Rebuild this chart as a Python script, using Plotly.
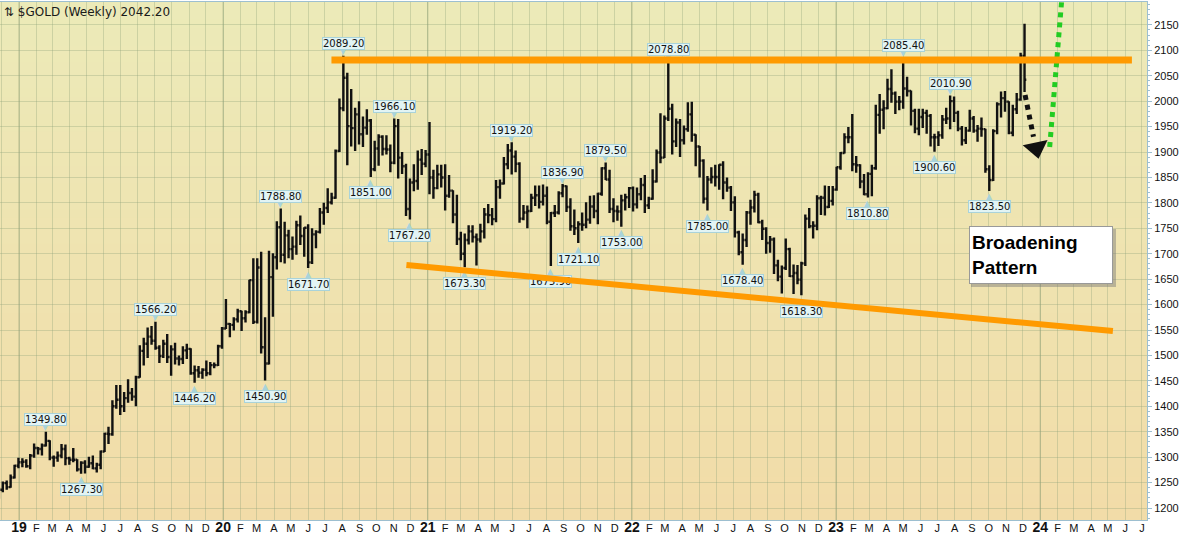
import pandas as pd
import plotly.graph_objects as go

# ---------------- DATA (weekly $GOLD bars) ----------------
opens = [
    1224, 1236, 1249, 1241, 1260, 1283,
    1290, 1291, 1282, 1303, 1318, 1316, 1323, 1332, 1299, 1299, 1303, 1316, 1298, 1295, 1295, 1276,
    1289, 1281, 1288, 1278, 1285, 1311, 1346, 1345, 1400, 1413, 1400, 1416, 1426, 1419, 1457, 1509,
    1523, 1537, 1529, 1515, 1499, 1523, 1497, 1512, 1494, 1493, 1510, 1513, 1465, 1471, 1466, 1472,
    1465, 1481, 1481, 1518,
    1553, 1562, 1560, 1571, 1587, 1573, 1585, 1648, 1566, 1673, 1516, 1484, 1654, 1693, 1752, 1698,
    1736, 1709, 1714, 1756, 1735, 1751, 1683, 1738, 1743, 1781, 1790, 1801, 1810, 1902, 1986, 2046,
    1951, 1947, 1974, 1935, 1948, 1962, 1866, 1907, 1930, 1906, 1905, 1879, 1951, 1889, 1872, 1788,
    1840, 1843, 1885, 1877,
    1895, 1850, 1829, 1856, 1850, 1814, 1824, 1777, 1729, 1700, 1727, 1744, 1733, 1728, 1744, 1777,
    1776, 1768, 1831, 1838, 1876, 1903, 1891, 1877, 1769, 1781, 1784, 1810, 1815, 1802, 1814, 1763,
    1780, 1781, 1819, 1833, 1792, 1754, 1750, 1758, 1757, 1767, 1793, 1784, 1818, 1868, 1846, 1788,
    1784, 1783, 1805, 1811,
    1829, 1797, 1817, 1835, 1795, 1808, 1842, 1899, 1889, 1966, 1985, 1921, 1958, 1923, 1945, 1974,
    1934, 1911, 1883, 1808, 1846, 1851, 1851, 1875, 1840, 1830, 1801, 1742, 1703, 1727, 1781, 1791,
    1816, 1762, 1749, 1721, 1728, 1677, 1655, 1672, 1709, 1656, 1662, 1649, 1681, 1769, 1754, 1755,
    1809, 1810, 1792, 1804,
    1826, 1870, 1898, 1929, 1929, 1876, 1874, 1842, 1817, 1857, 1868, 1973, 1983, 1986, 2024, 2015,
    1999, 1999, 2025, 2020, 1981, 1946, 1969, 1977, 1971, 1929, 1929, 1933, 1964, 1966, 2000, 1977,
    1946, 1923, 1942, 1966, 1942, 1946, 1945, 1866, 1845, 1941, 1994, 2006, 1999, 1938, 1984, 2003,
    2089,
]
highs = [
    1241, 1252, 1254, 1266, 1285, 1299,
    1298, 1296, 1306, 1327, 1320, 1327, 1349.8, 1333, 1303, 1311, 1326, 1325, 1301, 1318, 1296, 1292,
    1294, 1301, 1303, 1289, 1313, 1348, 1360, 1412, 1442, 1442, 1428, 1453, 1436, 1460, 1520, 1535,
    1555, 1558, 1566.2, 1520, 1531, 1542, 1520, 1525, 1500, 1518, 1523, 1514, 1480, 1479, 1475, 1490,
    1487, 1486, 1521, 1556,
    1611, 1564, 1575, 1592, 1588, 1589, 1649, 1691, 1691, 1704, 1575, 1706, 1701, 1764, 1788.8, 1763,
    1747, 1734, 1765, 1775, 1752, 1758, 1750, 1746, 1790, 1800, 1829, 1820, 1905, 2005, 2089.2, 2056,
    2024, 1987, 2000, 1970, 1984, 1965, 1922, 1935, 1933, 1933, 1915, 1966.1, 1965, 1900, 1877, 1848,
    1876, 1903, 1906, 1904,
    1959, 1865, 1875, 1875, 1876, 1855, 1825, 1816, 1743, 1740, 1756, 1756, 1740, 1759, 1790, 1798,
    1790, 1845, 1846, 1890, 1916, 1919.2, 1903, 1880, 1796, 1795, 1818, 1834, 1834, 1836, 1832, 1782,
    1796, 1823, 1836.9, 1834, 1809, 1787, 1764, 1781, 1801, 1814, 1815, 1820, 1870, 1879.5, 1865, 1809,
    1795, 1816, 1818, 1831,
    1832, 1830, 1849, 1855, 1812, 1866, 1905, 1976, 1972, 2078.8, 1995, 1966, 1965, 1952, 1998, 1999,
    1935, 1912, 1886, 1853, 1870, 1875, 1876, 1882, 1850, 1833, 1813, 1745, 1740, 1784, 1806, 1824,
    1820, 1767, 1752, 1735, 1732, 1688, 1677, 1730, 1712, 1679, 1678, 1684, 1777, 1790, 1764, 1815,
    1814, 1834, 1833, 1833,
    1871, 1900, 1937, 1949, 1975, 1892, 1876, 1857, 1860, 1875, 1993, 2014, 2002, 2044, 2063, 2019,
    2010, 2085.4, 2048, 2021, 1985, 1985, 1985, 1983, 1975, 1936, 1941, 1973, 1987, 2010.9, 2009, 1981,
    1951, 1949, 1983, 1971, 1953, 1968, 1946, 1874, 1945, 1998, 2019, 2020, 2000, 1993, 2016, 2095,
    2152,
]
lows = [
    1218, 1231, 1236, 1240, 1258, 1278,
    1280, 1279, 1276, 1299, 1305, 1303, 1321, 1294, 1281, 1291, 1298, 1284, 1285, 1290, 1272, 1267.3,
    1268, 1279, 1276, 1270, 1276, 1310, 1326, 1342, 1395, 1383, 1389, 1407, 1411, 1400, 1456, 1480,
    1495, 1521, 1511, 1485, 1495, 1485, 1460, 1482, 1480, 1483, 1493, 1462, 1446.2, 1456, 1454, 1459,
    1461, 1475, 1479, 1513,
    1552, 1536, 1549, 1565, 1548, 1565, 1583, 1562, 1563, 1504, 1450.9, 1482, 1576, 1669, 1683, 1681,
    1691, 1688, 1698, 1717, 1694, 1671.7, 1680, 1711, 1740, 1757, 1780, 1797, 1808, 1900, 1980, 1874,
    1911, 1902, 1915, 1910, 1934, 1851, 1862, 1873, 1893, 1895, 1860, 1876, 1848, 1857, 1774, 1767.2,
    1823, 1826, 1855, 1870,
    1817, 1808, 1827, 1830, 1785, 1810, 1760, 1717, 1687, 1673.3, 1718, 1722, 1677, 1722, 1730, 1760,
    1756, 1762, 1808, 1836, 1866, 1856, 1860, 1761, 1766, 1750, 1782, 1794, 1789, 1795, 1758, 1675.9,
    1772, 1777, 1811, 1782, 1745, 1737, 1721.1, 1745, 1750, 1759, 1770, 1758, 1814, 1845, 1780, 1762,
    1765, 1753, 1785, 1790,
    1783, 1789, 1805, 1780, 1788, 1806, 1840, 1878, 1888, 1961, 1895, 1910, 1890, 1915, 1940, 1920,
    1872, 1850, 1799, 1785, 1838, 1832, 1826, 1807, 1822, 1784, 1732, 1697, 1678.4, 1713, 1757, 1781,
    1760, 1727, 1700, 1702, 1660, 1646, 1622, 1668, 1654, 1621, 1640, 1618.3, 1676, 1750, 1730, 1746,
    1776, 1775, 1790, 1795,
    1824, 1865, 1897, 1917, 1862, 1859, 1829, 1815, 1810.8, 1813, 1865, 1936, 1945, 1984, 1997, 1975,
    1982, 1985, 2009, 1952, 1937, 1933, 1947, 1936, 1911, 1900.6, 1912, 1926, 1955, 1945, 1959, 1941,
    1913, 1916, 1940, 1938, 1920, 1930, 1859, 1823.5, 1843, 1935, 1968, 1979, 1935, 1931, 1975, 2001,
    2018,
]
closes = [
    1236, 1249, 1241, 1260, 1283, 1290,
    1291, 1282, 1303, 1318, 1316, 1323, 1332, 1299, 1299, 1303, 1316, 1298, 1295, 1295, 1276, 1289,
    1281, 1288, 1278, 1285, 1311, 1346, 1345, 1400, 1413, 1400, 1416, 1426, 1419, 1457, 1509, 1523,
    1537, 1529, 1515, 1499, 1523, 1497, 1512, 1494, 1493, 1510, 1513, 1465, 1471, 1466, 1472, 1465,
    1481, 1481, 1518, 1553,
    1562, 1560, 1571, 1587, 1573, 1585, 1648, 1566, 1673, 1516, 1484, 1654, 1693, 1752, 1698, 1736,
    1709, 1714, 1756, 1735, 1751, 1683, 1738, 1743, 1781, 1790, 1801, 1810, 1902, 1986, 2046, 1951,
    1947, 1974, 1935, 1948, 1962, 1866, 1907, 1930, 1906, 1905, 1879, 1951, 1889, 1872, 1788, 1840,
    1843, 1885, 1877, 1895,
    1850, 1829, 1856, 1850, 1814, 1824, 1777, 1729, 1700, 1727, 1744, 1733, 1728, 1744, 1777, 1776,
    1768, 1831, 1838, 1876, 1903, 1891, 1877, 1769, 1781, 1784, 1810, 1815, 1802, 1814, 1763, 1780,
    1781, 1819, 1833, 1792, 1754, 1750, 1758, 1757, 1767, 1793, 1784, 1818, 1868, 1846, 1788, 1784,
    1783, 1805, 1811, 1829,
    1797, 1817, 1835, 1795, 1808, 1842, 1899, 1889, 1966, 1985, 1921, 1958, 1923, 1945, 1974, 1934,
    1911, 1883, 1808, 1846, 1851, 1851, 1875, 1840, 1830, 1801, 1742, 1703, 1727, 1781, 1791, 1816,
    1762, 1749, 1721, 1728, 1677, 1655, 1672, 1709, 1656, 1662, 1649, 1681, 1769, 1754, 1755, 1809,
    1810, 1792, 1804, 1826,
    1870, 1898, 1929, 1929, 1876, 1874, 1842, 1817, 1857, 1868, 1973, 1983, 1986, 2024, 2015, 1999,
    1999, 2025, 2020, 1981, 1946, 1969, 1977, 1971, 1929, 1929, 1933, 1964, 1966, 2000, 1977, 1946,
    1923, 1942, 1966, 1942, 1946, 1945, 1866, 1845, 1941, 1994, 2006, 1999, 1938, 1984, 2003, 2089,
    2042.2,
]
first_week = "2018-11-26"

# price call-outs on the chart
label_dates = ["2019-02-18", "2019-04-22", "2019-09-02", "2019-11-11", "2020-03-16", "2020-04-13",
               "2020-06-01", "2020-08-03", "2020-09-21", "2020-11-02", "2020-11-30", "2021-03-08",
               "2021-05-31", "2021-08-09", "2021-08-30", "2021-09-27", "2021-11-15", "2021-12-13",
               "2022-03-07", "2022-05-16", "2022-07-18", "2022-10-31", "2023-02-27", "2023-05-01",
               "2023-06-26", "2023-07-24", "2023-10-02"]
label_values = [1349.80, 1267.30, 1566.20, 1446.20, 1450.90, 1788.80,
                1671.70, 2089.20, 1851.00, 1966.10, 1767.20, 1673.30,
                1919.20, 1675.90, 1836.90, 1721.10, 1879.50, 1753.00,
                2078.80, 1785.00, 1678.40, 1618.30, 1810.80, 2085.40,
                1900.60, 2010.90, 1823.50]
label_sides = ["high", "low", "high", "low", "low", "high",
               "low", "high", "low", "high", "low", "low",
               "high", "low", "high", "low", "high", "low",
               "high", "low", "low", "low", "low", "high",
               "low", "high", "low"]

# drawn trend lines / arrows
resistance_dates = ["2020-07-10", "2024-06-13"]
resistance_values = [2081, 2081]
support_dates = ["2020-11-21", "2024-05-10"]
support_values = [1678, 1548]
down_arrow_dates = ["2023-12-05", "2023-12-20"]
down_arrow_values = [2012, 1930]
down_head_date = ["2023-12-25"]
down_head_value = [1908]
up_path_dates = ["2024-01-18", "2024-02-10"]
up_path_values = [1910, 2219]

title_text = "⇅ $GOLD (Weekly) 2042.20"
note_text = "<b>Broadening<br>Pattern</b>"
y_ticks = list(range(1200, 2151, 50))
month_letters = ["J", "F", "M", "A", "M", "J", "J", "A", "S", "O", "N", "D"]

# ---------------- FIGURE ----------------
week_dates = pd.date_range(first_week, periods=len(closes), freq="W-MON")
month_ticks = pd.date_range("2018-12-01", "2024-07-01", freq="MS")
tick_text = [
    f"<b><span style='font-size:14px'>{d.year % 100:02d}</span></b>" if d.month == 1 else month_letters[d.month - 1]
    for d in month_ticks
]

fig = go.Figure()
fig.add_trace(go.Ohlc(
    x=week_dates, open=opens, high=highs, low=lows, close=closes,
    increasing=dict(line=dict(color="#111111", width=2.4)),
    decreasing=dict(line=dict(color="#111111", width=2.4)),
    tickwidth=0.45, hoverinfo="skip", showlegend=False,
))

# dotted black arrow (expected pull-back)
fig.add_trace(go.Scatter(
    x=down_arrow_dates, y=down_arrow_values, mode="lines",
    line=dict(color="#111111", width=5, dash="dot"), hoverinfo="skip", showlegend=False,
))
fig.add_trace(go.Scatter(
    x=down_head_date, y=down_head_value, mode="markers",
    marker=dict(symbol="triangle-down", size=22, color="#111111", angle=-12, line=dict(width=0)),
    hoverinfo="skip", showlegend=False,
))
# dotted green path (expected break-out)
fig.add_trace(go.Scatter(
    x=up_path_dates, y=up_path_values, mode="lines",
    line=dict(color="#22CC22", width=5, dash="dot"), hoverinfo="skip", showlegend=False,
))

# background gradient (each band runs to the bottom so no seams appear)
shapes = []
top_c = (236, 234, 184)
bot_c = (242, 220, 168)
n = 60
for i in range(n):
    t = i / (n - 1)
    c = tuple(round(top_c[k] + (bot_c[k] - top_c[k]) * t) for k in range(3))
    shapes.append(dict(type="rect", xref="paper", yref="paper", x0=0, x1=1,
                       y0=0, y1=1 - i / n,
                       fillcolor="rgb(%d,%d,%d)" % c, line=dict(width=0), layer="below"))
# darker year grid lines
for d in month_ticks:
    if d.month == 1:
        shapes.append(dict(type="line", xref="x", yref="paper", x0=d, x1=d, y0=0, y1=1,
                           line=dict(color="rgba(120,140,100,0.45)", width=1), layer="between"))
# shadow for the note box
shapes.append(dict(type="rect", xref="paper", yref="paper",
                   x0=971 / 1147, x1=1116 / 1147, y0=(520 - 287) / 518, y1=(520 - 229) / 518,
                   fillcolor="rgba(120,120,120,0.45)", line=dict(width=0), layer="above"))

annotations = []
annotations.append(dict(xref="paper", yref="paper", x=0.002, y=(520 - 12) / 518,
                        xanchor="left", yanchor="middle", showarrow=False, text=title_text,
                        font=dict(family="DejaVu Sans", size=12, color="#1a1a1a")))

for d, v, s in zip(label_dates, label_values, label_sides):
    up = s == "high"
    annotations.append(dict(x=d, y=v, xref="x", yref="y", showarrow=False,
                            text="▼" if up else "▲", yshift=4 if up else -6,
                            font=dict(family="DejaVu Sans", size=8, color="#A9D3DA")))
    annotations.append(dict(x=d, y=v, xref="x", yref="y", showarrow=False,
                            text=f"{v:.2f}", yshift=12 if up else -16,
                            font=dict(family="DejaVu Sans", size=10, color="#111111"),
                            bgcolor="#E2F4F4", bordercolor="#A9D3DA", borderwidth=1, borderpad=0))

# orange trend lines, drawn as annotation arrows so they sit above the call-outs
for dates, vals, w in [(resistance_dates, resistance_values, 7), (support_dates, support_values, 6)]:
    annotations.append(dict(x=dates[1], y=vals[1], ax=dates[0], ay=vals[0],
                            xref="x", yref="y", axref="x", ayref="y", text="",
                            showarrow=True, arrowhead=0, arrowwidth=w, arrowcolor="#FF9A00",
                            standoff=0, startstandoff=0))

annotations.append(dict(xref="paper", yref="paper", x=969 / 1147, y=(520 - 226) / 518,
                        xanchor="left", yanchor="top", showarrow=False, text=note_text,
                        align="left", width=138, height=52, borderpad=2,
                        bgcolor="#FFFFFF", bordercolor="#999999", borderwidth=1,
                        font=dict(family="Liberation Sans", size=19, color="#000000")))

fig.update_layout(
    width=1200, height=534,
    margin=dict(l=0, r=53, t=2, b=14),
    paper_bgcolor="#FFFFFF", plot_bgcolor="rgba(0,0,0,0)",
    shapes=shapes, annotations=annotations, hovermode=False, showlegend=False,
    font=dict(family="Liberation Sans", size=11, color="#111111"),
    xaxis=dict(
        type="date", range=["2018-11-28", "2024-07-10"], rangeslider=dict(visible=False),
        tickmode="array", tickvals=list(month_ticks), ticktext=tick_text,
        showgrid=True, gridcolor="rgba(140,160,120,0.33)", gridwidth=1,
        showline=True, linecolor="#9DBFD0", linewidth=1, mirror=True,
        ticks="", ticklen=0, ticklabelstandoff=-2,
        tickfont=dict(family="Liberation Sans", size=11, color="#111111"),
        automargin=False, zeroline=False, fixedrange=True,
    ),
    yaxis=dict(
        side="right", range=[1176.4, 2195], tickmode="array", tickvals=y_ticks,
        ticktext=[str(v) for v in y_ticks],
        showgrid=True, gridcolor="rgba(140,160,120,0.33)", gridwidth=1,
        showline=True, linecolor="#9DBFD0", linewidth=1, mirror=True,
        ticks="outside", ticklen=4, tickcolor="#9DBFD0",
        minor=dict(ticks="outside", ticklen=2, tickcolor="#9DBFD0", dtick=10, showgrid=False),
        tickfont=dict(family="Liberation Sans", size=11, color="#111111"),
        automargin=False, zeroline=False, fixedrange=True,
    ),
)

fig.write_html("out.html", config={"displayModeBar": False},
               post_script="document.body.style.margin='0';")
